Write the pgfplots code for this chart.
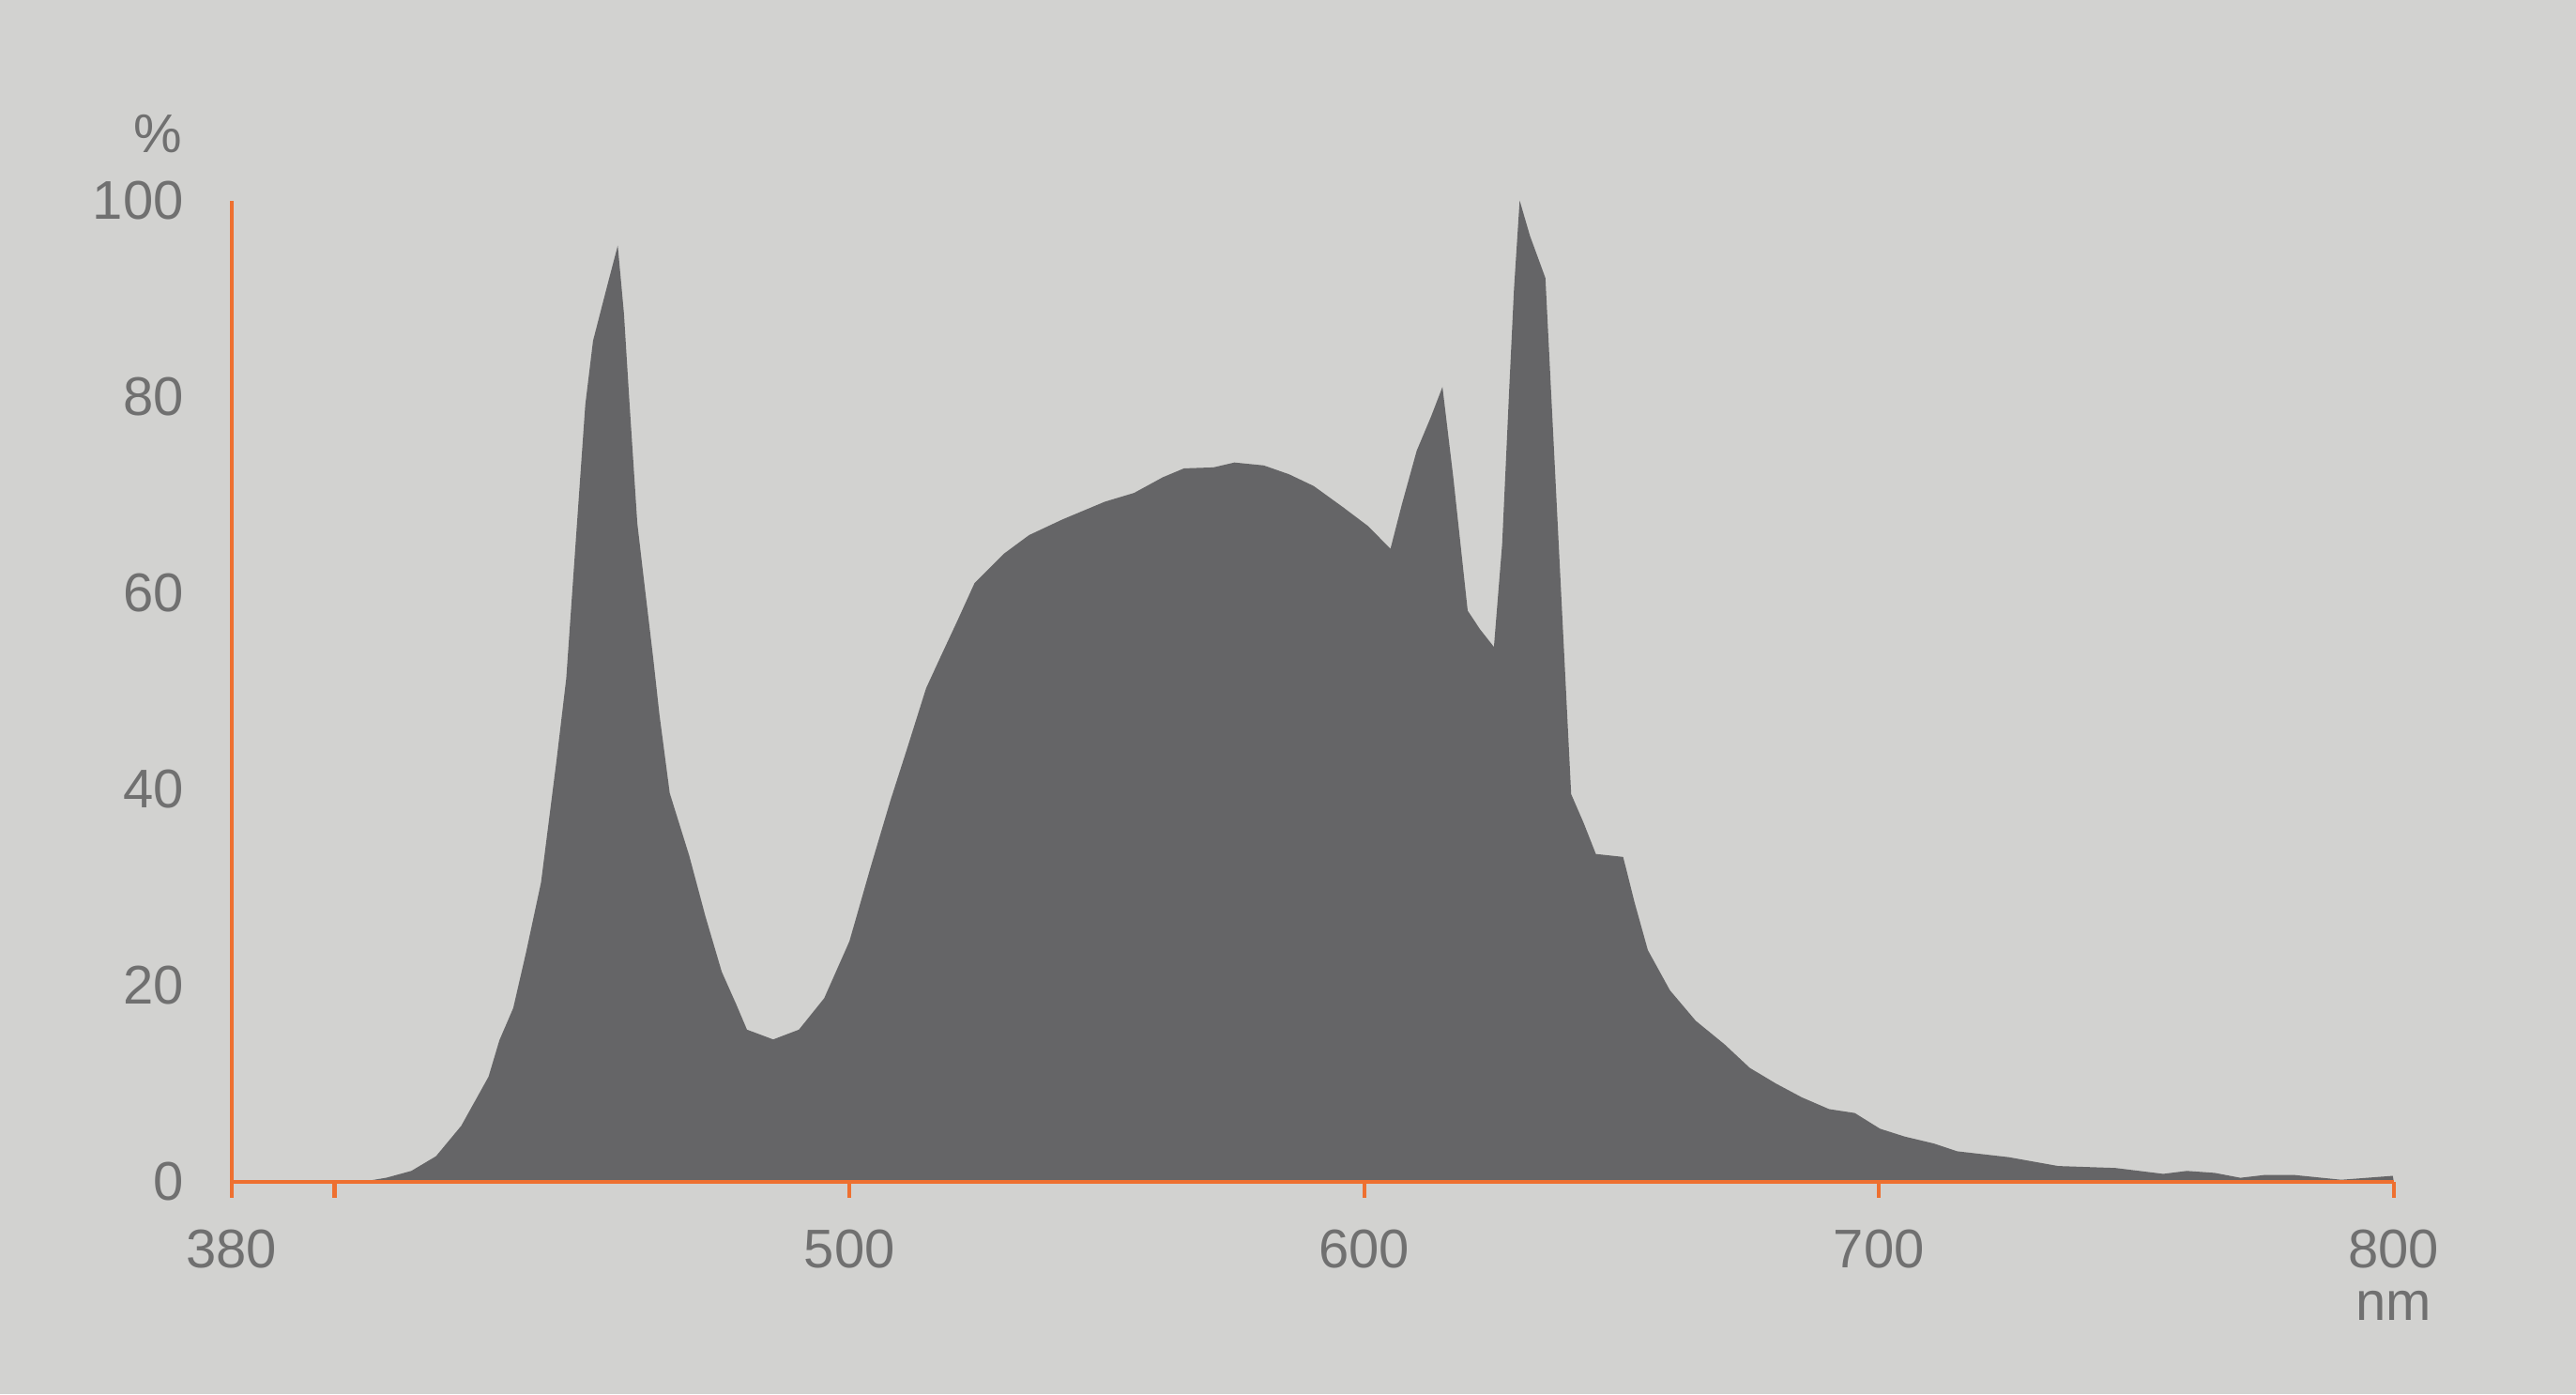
\documentclass[border=0pt]{standalone}
\usepackage{pgfplots}
\pgfplotsset{compat=1.18}
\usepackage{fontspec}
\setmainfont{Liberation Sans}
\definecolor{bgc}{HTML}{D2D2D0}
\definecolor{fillc}{HTML}{656567}
\definecolor{orng}{HTML}{EE7030}
\definecolor{txtc}{HTML}{707070}
\begin{document}
\begin{tikzpicture}
\path[fill=bgc, use as bounding box] (0,0) rectangle (27.45cm,14.85cm);
\begin{axis}[
  at={(2.4685cm,2.262cm)}, anchor=south west,
  scale only axis, width=23.04cm, height=10.452cm,
  xmin=380, xmax=800, ymin=0, ymax=100,
  axis x line=bottom, axis y line=left,
  axis line style={orng, line width=1.2pt, -},
  axis on top, clip=false,
  xtick={380,400,500,600,700,800},
  xticklabels={380,,500,600,700,800},
  ytick={0,20,40,60,80,100},
  tick align=outside,
  major tick length=1.7mm,
  xtick style={orng, line width=1.2pt},
  ytick style={draw=none},
  /pgf/number format/assume math mode=true,
  tick label style={font=\fontsize{16.5}{19}\selectfont, text=txtc, inner sep=0pt},
  xticklabel style={anchor=north},
  xticklabel shift=3.3mm,
  yticklabel style={anchor=east},
  yticklabel shift=3.35mm,
]
\addplot[fill=fillc, draw=none] coordinates {
(405.4,0) (410,0.4) (414.9,1.1) (419.7,2.6) (424.6,5.7) (429.9,10.7) (432,14.4)
(434.7,17.7) (437.2,23.4) (440.1,30.5) (443.1,42.9) (445,51.3) (446.9,65.7)
(448.7,79.2) (450.2,85.7) (452.9,91.2) (455,95.4) (456.2,88.5) (457.3,79.2)
(458.8,67.1) (460,61.7) (461.9,53.3) (463.1,47.6) (465.1,39.6) (468.9,33.2)
(472,27.1) (475.2,21.4) (478,18.1) (480.1,15.5) (485.2,14.5) (490.2,15.5)
(495.1,18.7) (500,24.5) (504.2,32.2) (508,38.9) (511.3,44.3) (514.9,50.3)
(517.8,53.6) (521,57.2) (524.3,61) (530,64) (534.9,65.9) (541.4,67.5)
(549.6,69.3) (555.3,70.2) (560.9,71.8) (565,72.7) (570.7,72.8) (574.8,73.3)
(580.5,73) (585.4,72.1) (590.2,70.9) (596,68.7) (600.8,66.8) (605.1,64.5)
(607.3,69) (610.2,74.5) (613,78) (615.2,81) (617.3,71.8) (620.1,58.2)
(622.5,56.3) (625.2,54.5) (626.8,65) (628.1,80) (629.1,91) (630.2,100) (632.2,96.4) (635.2,92.1) (640.2,39.5)
(642.6,36.6) (645,33.4) (650.3,33.1) (652.5,28.5) (655.1,23.6) (659.4,19.5)
(664.4,16.4) (670,14) (674.9,11.6) (680,10) (685,8.6) (690.3,7.4) (695.3,7)
(700.2,5.4) (705,4.6) (710.6,3.9) (715.2,3.1) (725.2,2.5) (734.8,1.6)
(745.9,1.4) (755.2,0.8) (759.8,1.1) (765.2,0.9) (770.2,0.4) (775.1,0.7)
(780.4,0.7) (789.8,0.2) (799.8,0.6) (800,0)
} \closedcycle;
\node[anchor=east, inner sep=0pt, text=txtc, font=\fontsize{16.5}{19}\selectfont, xshift=-5.2mm] at (axis cs:380,106.8) {\%};
\node[anchor=base, inner sep=0pt, text=txtc, font=\fontsize{16.5}{19}\selectfont] at (axis cs:800,-14.1) {nm};
\end{axis}
\end{tikzpicture}
\end{document}
